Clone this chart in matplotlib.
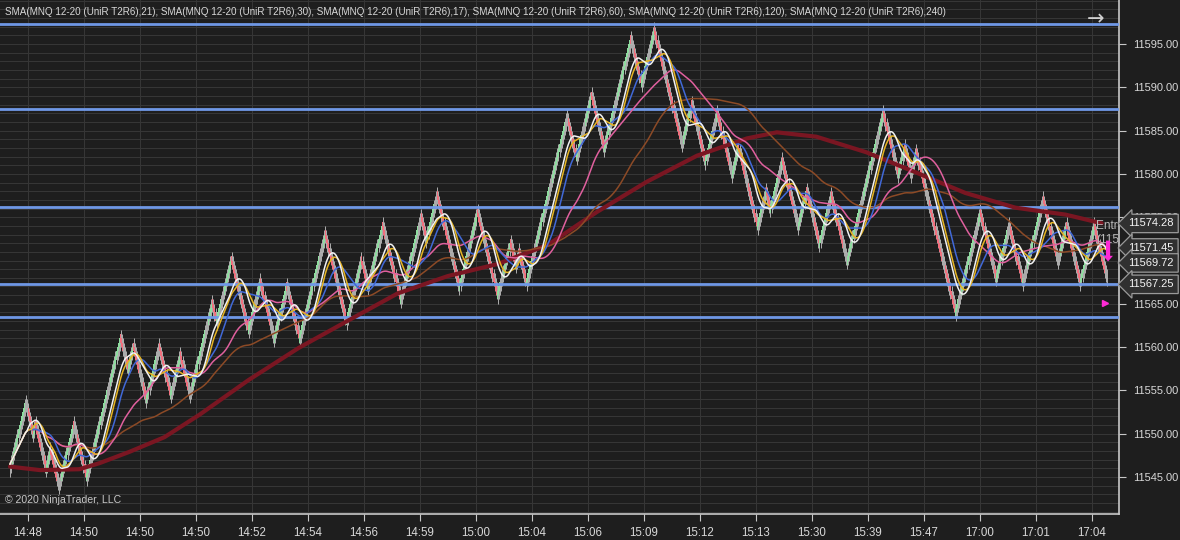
# NinjaTrader-style UniRenko chart of MNQ 12-20 with six SMAs

import matplotlib.pyplot as plt
import numpy as np
import pandas as pd
from matplotlib.ticker import MultipleLocator, FixedLocator
from matplotlib.transforms import blended_transform_factory

# swing highs / lows of the UniRenko bars
swing_prices = [
    11546.5, 11553.5, 11550, 11551, 11546, 11548, 11544, 11551, 11545, 11561,
    11557.5, 11560, 11554, 11560, 11554.5, 11559, 11554.5, 11565, 11563, 11570,
    11562, 11567.5, 11561, 11567, 11561, 11573, 11563, 11570, 11567, 11574,
    11565.5, 11575, 11572.5, 11577.5, 11567, 11575.5, 11566, 11572, 11569.5, 11571,
    11567.5, 11586.5, 11582, 11589, 11583, 11595.5, 11590.5, 11596.5, 11583.5, 11588,
    11581.5, 11587, 11580, 11583, 11574, 11578, 11576, 11581.5, 11574, 11578,
    11572, 11577.5, 11570, 11587, 11580, 11583, 11580, 11582.5, 11564, 11575.5,
    11568, 11574, 11567.5, 11577, 11570, 11574, 11567.5, 11574, 11567.5,
]
brick = 0.5  # UniRenko T2 -> 2 ticks of 0.25

sma240_bars = [0, 28, 65, 84, 112, 145, 178, 224, 271, 318, 364, 411, 458, 505, 551,
               598, 645, 692, 720, 757, 804, 850, 897, 944, 991, 1025]
sma240_vals = [11546.2, 11545.8, 11545.9, 11546.6, 11547.9, 11549.6, 11552.2, 11556.2,
               11559.9, 11563.1, 11566.2, 11568.2, 11569.6, 11571.8, 11575.6, 11579.1,
               11582.1, 11584.1, 11584.8, 11584.3, 11582.5, 11580.2, 11577.8, 11576.1,
               11575.3, 11574.3]

sma_periods = [17, 21, 30, 60, 120]
sma_colors = ["#f2f2f2", "#e6b422", "#4169d8", "#e0609e", "#8c4a26"]

level_prices = [11597.3, 11587.5, 11576.2, 11567.25, 11563.5]
flag_prices = [11574.28, 11571.45, 11569.72, 11567.25]
entry_price = 11567.25
signal_from, signal_to = 11572.3, 11569.9
marker_price = 11565.1

x_labels = ["14:48", "14:50", "14:50", "14:50", "14:52", "14:54", "14:56", "14:59", "15:00",
            "15:04", "15:06", "15:09", "15:12", "15:13", "15:30", "15:39", "15:47", "17:00",
            "17:01", "17:04"]

bg = "#1e1e1e"
txt = "#d8d8d8"
plt.rcParams["font.family"] = ["Liberation Sans", "DejaVu Sans"]

# build the bricks: each bar moves one brick in the direction of its leg
closes = [swing_prices[0]]
for a, b in zip(swing_prices[:-1], swing_prices[1:]):
    n = int(round(abs(b - a) / brick))
    closes += list(a + np.sign(b - a) * brick * np.arange(1, n + 1))
closes = np.array(closes)
idx = np.arange(len(closes))
step = np.sign(np.diff(np.r_[closes[0] - brick, closes]))
up = step > 0
opens = closes - step * 2 * brick
body_lo = np.minimum(opens, closes)
body_hi = np.maximum(opens, closes)

# pixel layout: first bar at x=10, last at x=1107, axis 0..1119
ppb = 1097 / (len(closes) - 1)

fig = plt.figure(figsize=(11.8, 5.4), dpi=100, facecolor=bg)
ax = fig.add_axes([0.0, 26 / 540, 1119 / 1180, 514 / 540], facecolor=bg)

# grid
ax.yaxis.set_major_locator(FixedLocator(np.arange(11545, 11600, 5)))
ax.yaxis.set_minor_locator(MultipleLocator(1))
ax.grid(which="both", axis="y", color="#373737", lw=0.7, zorder=0)
xt = (18 + 56 * np.arange(len(x_labels))) / ppb
ax.xaxis.set_major_locator(FixedLocator(xt))
ax.grid(which="major", axis="x", color="#373737", lw=0.7, zorder=0)

# bars
ax.vlines(idx, body_lo - brick, body_hi + brick, color="#e8e8e8", lw=0.5, zorder=2)
ax.bar(idx[up], (body_hi - body_lo)[up], bottom=body_lo[up], width=0.8,
       color="#8fdca0", lw=0, zorder=2.5)
ax.bar(idx[~up], (body_hi - body_lo)[~up], bottom=body_lo[~up], width=0.8,
       color="#f0707e", lw=0, zorder=2.5)

# levels
for p in level_prices:
    ax.axhline(p, color="#6f98e6", lw=2, zorder=3)

# SMAs
s = pd.Series(closes)
ax.plot(sma240_bars, sma240_vals, color="#7a1622", lw=3, zorder=3.5, solid_capstyle="round")
for per, col in zip(sma_periods[::-1], sma_colors[::-1]):
    ax.plot(idx, s.rolling(per, min_periods=1).mean(), color=col, lw=1.1, zorder=4)

# orders / markers
last = idx[-1]
ax.annotate("", xy=(last + 1, signal_to), xytext=(last + 1, signal_from),
            arrowprops=dict(color="#ff2bd6", width=3, headwidth=7, headlength=4, lw=0),
            zorder=6)
ax.plot([last - 2], [marker_price], marker=">", color="#ff2bd6", ms=5, zorder=6)
ax.text(last - 10, entry_price + 7.4, "Entry\n(11567.25)", color="#b8b8b8",
        fontsize=8.5, va="top", ha="left", linespacing=1.15, zorder=5, clip_on=True)

ax.set_xlim(-10 / ppb, 1109 / ppb)
ax.set_ylim(11540.73, 11600.08)

# axes styling
for side in ["top", "left"]:
    ax.spines[side].set_visible(False)
for side in ["right", "bottom"]:
    ax.spines[side].set_color("#c8c8c8")
    ax.spines[side].set_linewidth(1.2)
ax.yaxis.tick_right()
ax.yaxis.set_major_formatter(plt.FuncFormatter(lambda v, p: f"{v:.2f}"))
ax.tick_params(axis="y", which="major", colors="#c8c8c8", labelcolor=txt, labelsize=8,
               length=5, pad=5)
ax.tick_params(axis="y", which="minor", length=0)
ax.tick_params(axis="x", colors="#c8c8c8", labelcolor=txt, labelsize=8.3, length=5, pad=4)
ax.set_xticklabels(x_labels)

# price flags on the axis
tr = blended_transform_factory(ax.transAxes, ax.transData)
for p in flag_prices:
    ax.text(1.0085, p, f"{p:.2f}", transform=tr, ha="left", va="center", color="#f4f4f4",
            fontsize=8, zorder=7, clip_on=False,
            bbox=dict(boxstyle="larrow,pad=0.38", fc="#303030", ec="#9a9a9a", lw=0.9))

fig.text(5 / 1180, 1 - 12 / 540, "SMA(MNQ 12-20 (UniR T2R6),21), SMA(MNQ 12-20 (UniR T2R6),30), "
         "SMA(MNQ 12-20 (UniR T2R6),17), SMA(MNQ 12-20 (UniR T2R6),60), SMA(MNQ 12-20 (UniR T2R6),120), "
         "SMA(MNQ 12-20 (UniR T2R6),240)", color=txt, fontsize=7.13, va="center", ha="left")
fig.text(1096 / 1180, 1 - 19 / 540, "\u2192", color="#d0d0d0", fontsize=15, va="center",
         ha="center", family="DejaVu Sans")
fig.text(5 / 1180, 1 - 500 / 540, "\u00a9 2020 NinjaTrader, LLC", color="#c8c8c8",
         fontsize=7.6, va="center", ha="left")

fig.savefig("out.png", dpi=100, facecolor=bg)
